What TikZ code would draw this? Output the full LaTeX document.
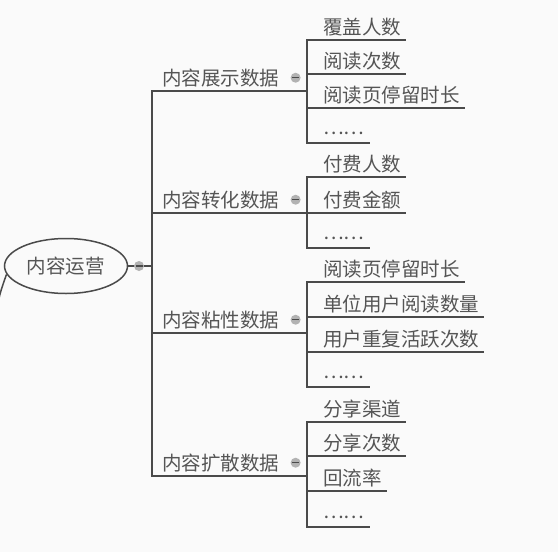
\documentclass[tikz,border=0pt]{standalone}
\usepackage{fontspec}
\newfontfamily\cjk{Noto Sans CJK SC}
\usetikzlibrary{positioning,shapes.geometric}
\definecolor{linegray}{HTML}{4A4A4A}
\definecolor{textgray}{HTML}{555555}
\newcommand{\moredots}{\raisebox{4pt}{……}}

\begin{document}
\begin{tikzpicture}[
        x=1pt, y=-1pt,
        font=\cjk\fontsize{19.5}{22}\selectfont,
        text=textgray,
        link/.style={draw=linegray, line width=1.5pt},
        root/.style={
            draw=linegray,
            line width=1.5pt,
            ellipse,
            inner sep=0pt,
            minimum width=123pt,
            minimum height=55pt
        },
        topic/.style={anchor=south west, inner xsep=5pt, inner ysep=4pt},
        leaf/.style={anchor=south west, inner xsep=5pt, inner ysep=4pt},
        fold/.style={
            circle, fill=gray!60, inner sep=0pt, minimum size=10pt,
            path picture={\draw[linegray, line width=1.2pt]
                ([xshift=-3.5pt]path picture bounding box.center) --
                ([xshift=3.5pt]path picture bounding box.center);}
        }
    ]
    \path[fill=black!2, use as bounding box] (0,0) rectangle (558,552);

    % root
    \node[root] (R) at (66,266) {内容运营};
    \coordinate (T) at (152,266);
    \coordinate (P) at (-3,308);
    \draw[link] (R.east) -- (T);
    \draw[link] (R.188) to[out=250, in=80] (P);
    \node[fold] (Rf) at (139,266) {};

    % branches
    \node[topic] (b1) at (157,91) {内容展示数据};
    \node[topic] (b2) at (157,213) {内容转化数据};
    \node[topic] (b3) at (157,333) {内容粘性数据};
    \node[topic] (b4) at (157,476) {内容扩散数据};
    \coordinate (h1) at (307,91);
    \coordinate (h2) at (307,213);
    \coordinate (h3) at (307,333);
    \coordinate (h4) at (307,476);
    \draw[link] (T) |- (h1);
    \draw[link] (T) |- (h2);
    \draw[link] (T) |- (h3);
    \draw[link] (T) |- (h4);
    \node[fold, right=6pt of b1] (f1) {};
    \node[fold, right=6pt of b2] (f2) {};
    \node[fold, right=6pt of b3] (f3) {};
    \node[fold, right=6pt of b4] (f4) {};

    % leaves of b1
    \node[leaf] (l11) at (318,40) {覆盖人数};
    \node[leaf] (l12) at (318,74) {阅读次数};
    \node[leaf] (l13) at (318,108) {阅读页停留时长};
    \node[leaf] (l14) at (318,143) {\moredots};
    \draw[link] (h1) |- (l11.south east);
    \draw[link] (h1) |- (l12.south east);
    \draw[link] (h1) |- (l13.south east);
    \draw[link] (h1) |- (l14.south east);

    % leaves of b2
    \node[leaf] (l21) at (318,177) {付费人数};
    \node[leaf] (l22) at (318,213) {付费金额};
    \node[leaf] (l23) at (318,248) {\moredots};
    \draw[link] (h2) |- (l21.south east);
    \draw[link] (h2) |- (l22.south east);
    \draw[link] (h2) |- (l23.south east);

    % leaves of b3
    \node[leaf] (l31) at (318,282) {阅读页停留时长};
    \node[leaf] (l32) at (318,317) {单位用户阅读数量};
    \node[leaf] (l33) at (318,352) {用户重复活跃次数};
    \node[leaf] (l34) at (318,387) {\moredots};
    \draw[link] (h3) |- (l31.south east);
    \draw[link] (h3) |- (l32.south east);
    \draw[link] (h3) |- (l33.south east);
    \draw[link] (h3) |- (l34.south east);

    % leaves of b4
    \node[leaf] (l41) at (318,422) {分享渠道};
    \node[leaf] (l42) at (318,456) {分享次数};
    \node[leaf] (l43) at (318,491) {回流率};
    \node[leaf] (l44) at (318,527) {\moredots};
    \draw[link] (h4) |- (l41.south east);
    \draw[link] (h4) |- (l42.south east);
    \draw[link] (h4) |- (l43.south east);
    \draw[link] (h4) |- (l44.south east);
\end{tikzpicture}
\end{document}
